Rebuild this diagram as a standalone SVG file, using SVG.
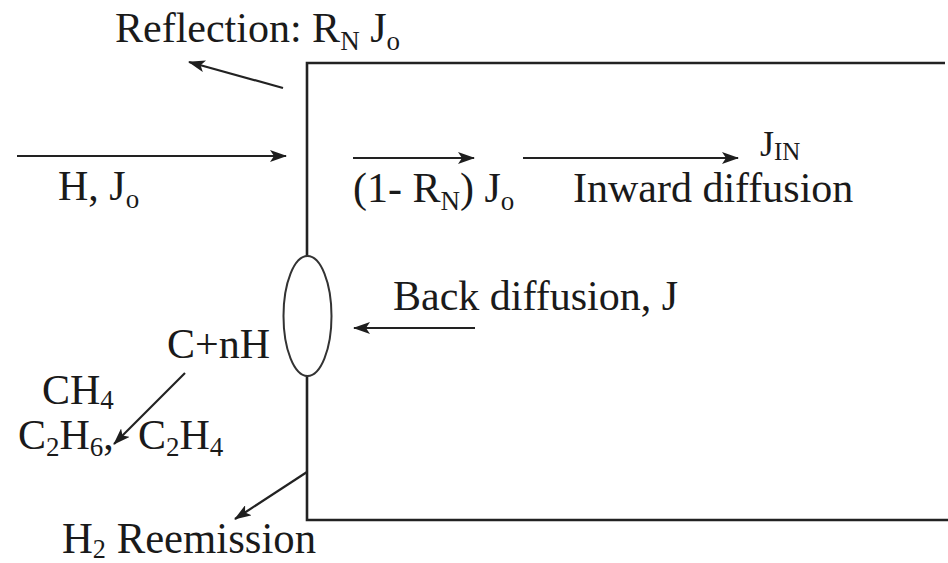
<svg xmlns="http://www.w3.org/2000/svg" width="948" height="563" viewBox="0 0 948 563">
  <defs>
    <marker id="ah" markerWidth="17" markerHeight="12" refX="16" refY="6" orient="auto" markerUnits="userSpaceOnUse">
      <path d="M0,0 L17,6 L0,12 L4,6 z" fill="#1e1e1e"/>
    </marker>
    <style>
      text { font-family: "Liberation Serif", "Times New Roman", serif; font-size: 42px; fill: #1a1a1a; }
      .sub { font-size: 27px; }
      .small { font-size: 36px; }
      .smallsub { font-size: 25px; }
      .wall { fill: none; stroke: #222; stroke-width: 2.6; }
      .arrow { fill: none; stroke: #222; stroke-width: 2.2; marker-end: url(#ah); }
    </style>
  </defs>
  <rect width="948" height="563" fill="#ffffff"/>

  <g id="wall">
    <path class="wall" d="M945,63 H307 V256"/>
    <path class="wall" d="M307,376 V520 H948"/>
  </g>
  <g id="trap">
    <ellipse cx="307.5" cy="316" rx="24" ry="60" fill="none" stroke="#333" stroke-width="2"/>
  </g>

  <g id="connectors">
    <line class="arrow" x1="283" y1="88" x2="189" y2="62"/>
    <line class="arrow" x1="17" y1="156" x2="286" y2="156"/>
    <line class="arrow" x1="353" y1="158" x2="474" y2="158"/>
    <line class="arrow" x1="523" y1="158" x2="738" y2="158"/>
    <line class="arrow" x1="475" y1="328" x2="354" y2="328"/>
    <line class="arrow" x1="185" y1="373" x2="114" y2="444"/>
    <line class="arrow" x1="307" y1="472" x2="235" y2="519"/>
  </g>

  <g id="label-reflection">
    <text x="115" y="42">Reflection: R<tspan class="sub" dy="8">N</tspan><tspan dy="-8"> J</tspan><tspan class="sub" dy="8">o</tspan></text>
  </g>
  <g id="label-incident">
    <text x="58" y="200">H, J<tspan class="sub" dy="8">o</tspan></text>
  </g>
  <g id="label-transmitted">
    <text x="353" y="202">(1- R<tspan class="sub" dy="8">N</tspan><tspan dy="-8">) J</tspan><tspan class="sub" dy="8">o</tspan></text>
  </g>
  <g id="label-inward">
    <text x="573" y="202">Inward diffusion</text>
  </g>
  <g id="label-jin">
    <text class="small" x="760" y="156">J<tspan class="smallsub" dy="4">IN</tspan></text>
  </g>
  <g id="label-back">
    <text x="393" y="310">Back diffusion, J</text>
  </g>
  <g id="label-cnh">
    <text x="167" y="358">C+nH</text>
  </g>
  <g id="label-ch4">
    <text x="42" y="404">CH<tspan class="sub" dy="5">4</tspan></text>
  </g>
  <g id="label-c2">
    <text x="18" y="449">C<tspan class="sub" dy="7">2</tspan><tspan dy="-7">H</tspan><tspan class="sub" dy="7">6</tspan><tspan dy="-7">,</tspan><tspan x="138">C</tspan><tspan class="sub" dy="7">2</tspan><tspan dy="-7">H</tspan><tspan class="sub" dy="7">4</tspan></text>
  </g>
  <g id="label-reemission">
    <text x="62" y="553" style="font-size:44px" textLength="254" lengthAdjust="spacingAndGlyphs">H<tspan class="sub" dy="5">2</tspan><tspan dy="-5"> Reemission</tspan></text>
  </g>
</svg>
